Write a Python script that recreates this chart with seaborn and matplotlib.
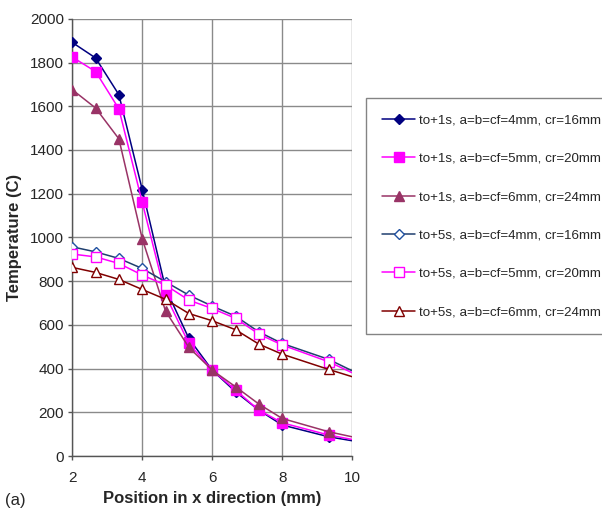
import matplotlib
matplotlib.use("Agg")
import matplotlib.pyplot as plt
import seaborn as sns
import pandas as pd

position = [2.0, 2.667, 3.333, 4.0, 4.667, 5.333, 6.0, 6.667, 7.333, 8.0, 9.333, 10.0]

t1_4mm = [1892, 1821, 1653, 1219, 767, 538, 393, 294, 210, 142, 88, 70]
t1_5mm = [1825, 1759, 1588, 1161, 736, 515, 393, 302, 210, 152, 96, 76]
t1_6mm = [1676, 1592, 1451, 994, 663, 497, 393, 317, 238, 172, 111, 88]
t5_4mm = [957, 934, 904, 858, 797, 736, 686, 640, 568, 515, 442, 390]
t5_5mm = [924, 911, 881, 828, 782, 713, 675, 630, 558, 508, 431, 381]
t5_6mm = [863, 840, 808, 762, 717, 652, 619, 578, 512, 466, 396, 363]

labels = [
    "to+1s, a=b=cf=4mm, cr=16mm",
    "to+1s, a=b=cf=5mm, cr=20mm",
    "to+1s, a=b=cf=6mm, cr=24mm",
    "to+5s, a=b=cf=4mm, cr=16mm",
    "to+5s, a=b=cf=5mm, cr=20mm",
    "to+5s, a=b=cf=6mm, cr=24mm",
]
x_ticks = [2, 4, 6, 8, 10]
y_ticks = [0, 200, 400, 600, 800, 1000, 1200, 1400, 1600, 1800, 2000]

series = [t1_4mm, t1_5mm, t1_6mm, t5_4mm, t5_5mm, t5_6mm]
frames = []
for lab, vals in zip(labels, series):
    frames.append(pd.DataFrame({"x": position, "y": vals, "series": lab}))
df = pd.concat(frames, ignore_index=True)

sns.set_style("white")
plt.rcParams["font.family"] = ["Liberation Sans", "DejaVu Sans"]

styles = [
    dict(color="#000080", marker="D", mfc="#000080", mec="#000080", ms=5.5),
    dict(color="#FF00FF", marker="s", mfc="#FF00FF", mec="#FF00FF", ms=6.5),
    dict(color="#993366", marker="^", mfc="#993366", mec="#993366", ms=7),
    dict(color="#1F3F6F", marker="D", mfc="white", mec="#2050A0", ms=5),
    dict(color="#FF00FF", marker="s", mfc="white", mec="#FF00FF", ms=6.5),
    dict(color="#800000", marker="^", mfc="white", mec="#800000", ms=7),
]

fig = plt.figure(figsize=(6.02, 5.23), dpi=100)
ax = fig.add_axes([0.12, 0.128, 0.465, 0.836])

n = len(position)
for lab, st in zip(labels, styles):
    sub = df[df["series"] == lab]
    sns.lineplot(data=sub, x="x", y="y", ax=ax, color=st["color"], marker=st["marker"],
                 markerfacecolor=st["mfc"], markeredgecolor=st["mec"], markersize=st["ms"],
                 markeredgewidth=1.0, linewidth=1.1, label=lab, legend=False, zorder=3,
                 markevery=list(range(n - 1)), clip_on=True)

ax.set_xlim(2, 10)
ax.set_ylim(0, 2000)
ax.set_xticks(x_ticks)
ax.set_yticks(y_ticks)
ax.grid(True, color="#8a8a8a", linewidth=1.0)
ax.set_axisbelow(True)
for side in ["top", "right"]:
    ax.spines[side].set_visible(False)
for side in ["left", "bottom"]:
    ax.spines[side].set_color("#555555")
    ax.spines[side].set_linewidth(1.0)
ax.tick_params(axis="both", which="major", labelsize=11, length=3, width=1,
               color="#555555", direction="out", left=True, bottom=True, pad=3)
ax.tick_params(axis="x", pad=8)
ax.set_xlabel("Position in x direction (mm)", fontsize=12, fontweight="bold", labelpad=4)
ax.set_ylabel("Temperature (C)", fontsize=12, fontweight="bold", labelpad=6)

handles, labs = ax.get_legend_handles_labels()
leg = fig.legend(handles, labs, loc="upper left", bbox_to_anchor=(0.608, 0.812),
                 fontsize=9.6, frameon=True, fancybox=False, edgecolor="#666666",
                 handlelength=2.5, handletextpad=0.25, labelspacing=1.95,
                 borderpad=1.2, borderaxespad=0)
leg.get_frame().set_linewidth(1.0)

fig.text(0.008, 0.035, "(a)", fontsize=12)

fig.savefig("out.png", dpi=100)
